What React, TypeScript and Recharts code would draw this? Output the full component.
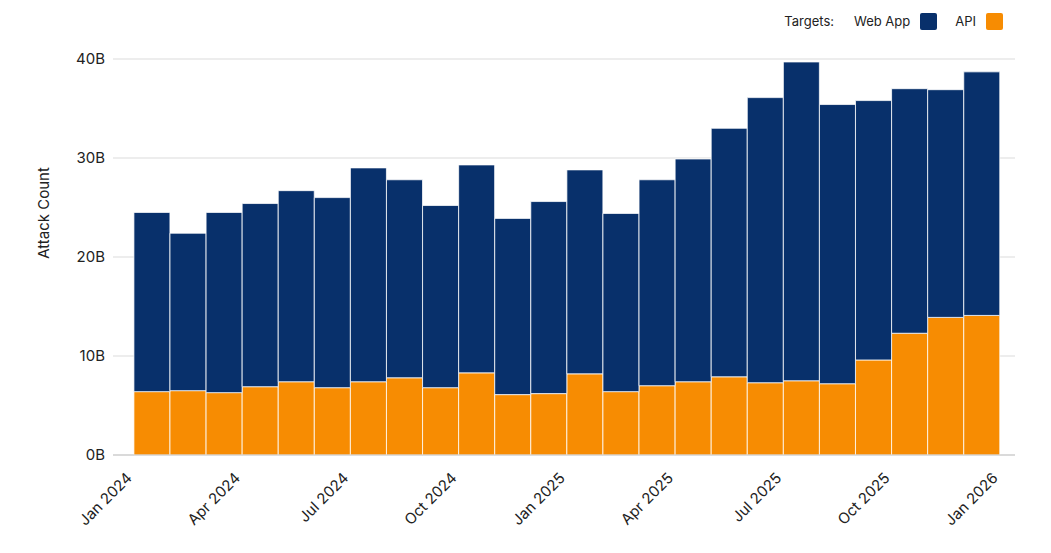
import React from 'react';
import { BarChart, Bar, XAxis, YAxis, CartesianGrid, Legend } from 'recharts';

const months = [
  'Jan 2024', 'Feb 2024', 'Mar 2024', 'Apr 2024', 'May 2024', 'Jun 2024',
  'Jul 2024', 'Aug 2024', 'Sep 2024', 'Oct 2024', 'Nov 2024', 'Dec 2024',
  'Jan 2025', 'Feb 2025', 'Mar 2025', 'Apr 2025', 'May 2025', 'Jun 2025',
  'Jul 2025', 'Aug 2025', 'Sep 2025', 'Oct 2025', 'Nov 2025', 'Dec 2025',
];

// values in billions
const apiValues = [
  6.4, 6.5, 6.3, 6.9, 7.4, 6.8, 7.4, 7.8, 6.8, 8.3, 6.1, 6.2,
  8.2, 6.4, 7.0, 7.4, 7.9, 7.3, 7.5, 7.2, 9.6, 12.3, 13.9, 14.1,
];

const webAppValues = [
  18.1, 15.9, 18.2, 18.5, 19.3, 19.2, 21.6, 20.0, 18.4, 21.0, 17.8, 19.4,
  20.6, 18.0, 20.8, 22.5, 25.1, 28.8, 32.2, 28.2, 26.2, 24.7, 23.0, 24.6,
];

const xTickPositions = [0, 3, 6, 9, 12, 15, 18, 21, 24];
const xTickLabels = [
  'Jan 2024', 'Apr 2024', 'Jul 2024', 'Oct 2024', 'Jan 2025',
  'Apr 2025', 'Jul 2025', 'Oct 2025', 'Jan 2026',
];
const yTicks = [0, 10, 20, 30, 40];

const NAVY = '#08306b';
const ORANGE = '#f78c02';
const FONT = 'Inter, "Noto Sans", sans-serif';

const data = months.map((m, i) => ({
  month: m,
  x: i + 0.5,
  api: apiValues[i],
  webApp: webAppValues[i],
}));

const XTick = (props: any) => {
  const { x, y, payload } = props;
  const idx = xTickPositions.indexOf(payload.value);
  const label = idx >= 0 ? xTickLabels[idx] : '';
  return (
    <g transform={`translate(${x - 1},${y + 16})`}>
      <text
        x={0}
        y={0}
        textAnchor="end"
        transform="rotate(-45)"
        fontSize={15}
        fontFamily={FONT}
        fill="#222"
      >
        {label}
      </text>
    </g>
  );
};

const YLabel = (props: any) => {
  const vb = props.viewBox || { x: 0, y: 0, width: 0, height: 0 };
  const cx = vb.x + 35;
  const cy = vb.y + vb.height / 2 - 44;
  return (
    <text
      x={cx}
      y={cy}
      transform={`rotate(-90, ${cx}, ${cy})`}
      textAnchor="middle"
      dominantBaseline="central"
      fontSize={15}
      fontFamily={FONT}
      fill="#222"
    >
      Attack Count
    </text>
  );
};

const LegendContent = (props: any) => {
  const payload = (props.payload || []).slice().reverse();
  return (
    <div
      style={{
        display: 'flex',
        alignItems: 'center',
        justifyContent: 'flex-end',
        fontFamily: FONT,
        fontSize: 13,
        color: '#222',
        height: 26,
        paddingRight: 40,
        boxSizing: 'border-box',
      }}
    >
      <span style={{ marginRight: 20 }}>Targets:</span>
      {payload.map((p: any, i: number) => (
        <React.Fragment key={p.value}>
          <span style={{ marginRight: 10 }}>{p.value}</span>
          <span
            style={{
              display: 'inline-block',
              width: 17,
              height: 17,
              borderRadius: 2,
              background: p.color,
              marginRight: i < payload.length - 1 ? 18 : 0,
            }}
          />
        </React.Fragment>
      ))}
    </div>
  );
};

export default function App() {
  return (
    <div style={{ width: 1035, height: 537 }}>
      <BarChart
        width={1035}
        height={537}
        data={data}
        margin={{ top: 51, right: 28, bottom: 0, left: 0 }}
        barCategoryGap={0}
        barGap={0}
      >
        <CartesianGrid horizontal vertical={false} stroke="#dcdcdc" strokeWidth={1.2} />
        <XAxis
          dataKey="x"
          type="number"
          domain={[-0.58, 24.42]}
          ticks={xTickPositions}
          interval={0}
          tick={<XTick />}
          tickLine={false}
          axisLine={{ stroke: '#c8c8c8', strokeWidth: 1.2 }}
          height={90}
          allowDataOverflow
        />
        <YAxis
          type="number"
          domain={[0, 40]}
          ticks={yTicks}
          tickFormatter={(v: number) => `${v}B`}
          tick={{ fontSize: 15, fontFamily: FONT, fill: '#222' }}
          tickLine={false}
          axisLine={false}
          width={105}
          label={<YLabel />}
        />
        <Legend
          layout="vertical"
          align="center"
          verticalAlign="middle"
          wrapperStyle={{ top: 0, left: 0, width: 1035 }}
          content={<LegendContent />}
        />
        <Bar
          dataKey="api"
          name="API"
          stackId="a"
          fill={ORANGE}
          stroke="#ffffff"
          strokeOpacity={0.75}
          strokeWidth={1}
          isAnimationActive={false}
        />
        <Bar
          dataKey="webApp"
          name="Web App"
          stackId="a"
          fill={NAVY}
          stroke="#ffffff"
          strokeOpacity={0.75}
          strokeWidth={1}
          isAnimationActive={false}
        />
      </BarChart>
    </div>
  );
}
